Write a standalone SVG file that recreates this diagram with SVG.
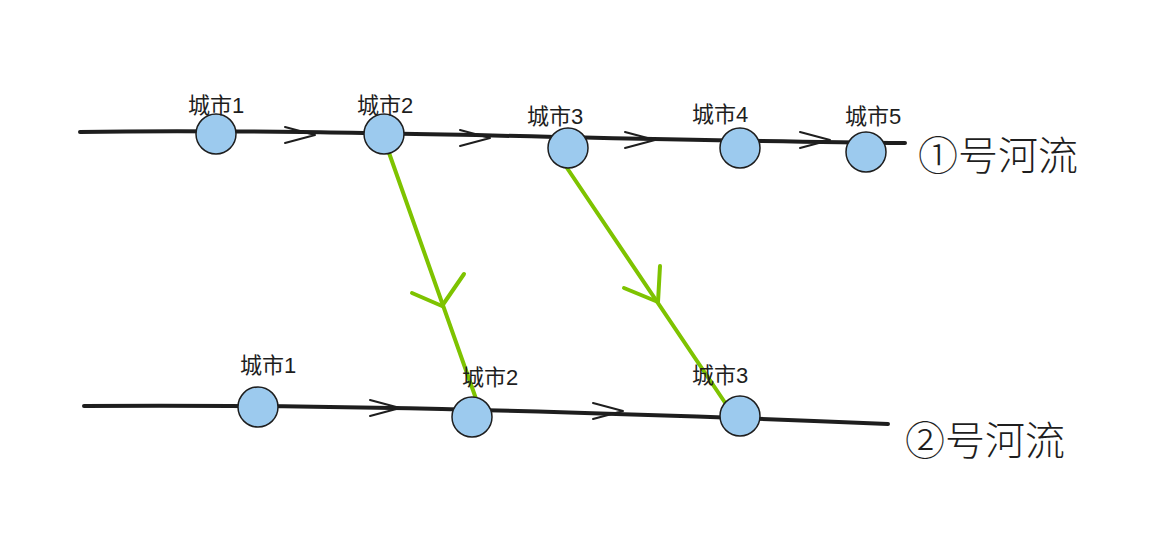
<svg xmlns="http://www.w3.org/2000/svg" width="1163" height="537" viewBox="0 0 1163 537">
<style>
.river{fill:none;stroke:#1e1e1e;stroke-width:4;stroke-linecap:round}
.chev{fill:none;stroke:#1e1e1e;stroke-width:2;stroke-linecap:round;stroke-linejoin:round}
.flow{fill:none;stroke:#7ec300;stroke-width:4;stroke-linecap:round;stroke-linejoin:round}
.node{fill:#9ccaee;stroke:#1e1e1e;stroke-width:1.5}
.lbl{font-family:"Liberation Sans","Noto Sans CJK SC",sans-serif;font-size:22px;fill:#1e1e1e;text-anchor:middle}
.hand{font-family:"Noto Sans CJK SC",sans-serif;font-size:40px;font-weight:300;fill:#1e1e1e}
</style>
<rect width="1163" height="537" fill="#fff"/>
<g id="connectors">
<path class="river" d="M80,132 C300,128 600,140 905,143"/>
<path class="river" d="M84,406 C300,404 600,412 888,424"/>
<path class="chev" d="M285,127 L315,135 L285,143"/>
<path class="chev" d="M460,130 L490,138 L460,146"/>
<path class="chev" d="M625,132 L655,140 L625,148"/>
<path class="chev" d="M800,132 L830,140 L800,148"/>
<path class="chev" d="M370,400 L400,408 L370,416"/>
<path class="chev" d="M593,403 L623,411 L593,419"/>
<path class="flow" d="M388,150 L480,410"/>
<path class="flow" d="M412,293 L442,306 L464,274"/>
<path class="flow" d="M565,165 L730,410"/>
<path class="flow" d="M624,288 L658,302 L660,266"/>
</g>
<g id="n1"><circle class="node" cx="216" cy="134" r="20"/><text class="lbl" x="216" y="113">城市1</text></g>
<g id="n2"><circle class="node" cx="384" cy="134" r="20"/><text class="lbl" x="385" y="113">城市2</text></g>
<g id="n3"><circle class="node" cx="568" cy="148" r="20"/><text class="lbl" x="555" y="124">城市3</text></g>
<g id="n4"><circle class="node" cx="740" cy="148" r="20"/><text class="lbl" x="720" y="122">城市4</text></g>
<g id="n5"><circle class="node" cx="866" cy="152" r="20"/><text class="lbl" x="873" y="124">城市5</text></g>
<g id="m1"><circle class="node" cx="258" cy="407" r="20"/><text class="lbl" x="268" y="373">城市1</text></g>
<g id="m2"><circle class="node" cx="472" cy="417" r="20"/><text class="lbl" x="490" y="385">城市2</text></g>
<g id="m3"><circle class="node" cx="740" cy="416" r="20"/><text class="lbl" x="720" y="383">城市3</text></g>
<g id="r1"><text class="hand" x="918" y="170">①号河流</text></g>
<g id="r2"><text class="hand" x="905" y="455">②号河流</text></g>
</svg>
